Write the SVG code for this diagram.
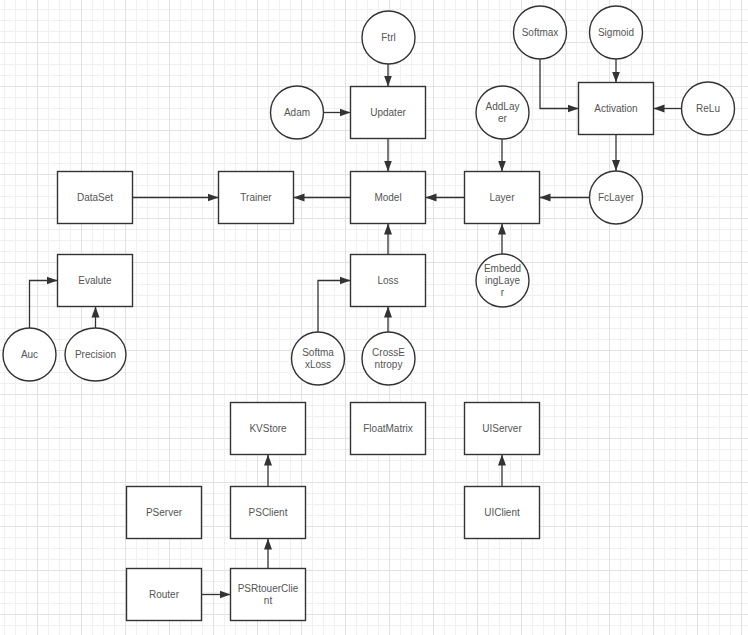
<svg xmlns="http://www.w3.org/2000/svg" width="748" height="635" viewBox="0 0 748 635">
<defs>
<pattern id="grid" patternUnits="userSpaceOnUse" x="4" y="9" width="44" height="44">
<path d="M0.5 0V44M11.5 0V44M22.5 0V44M0 0.5H44M0 11.5H44M0 22.5H44" stroke="#f0f0f0" stroke-width="1" fill="none"/>
<path d="M33.5 0V44M0 33.5H44" stroke="#e2e2e2" stroke-width="1" fill="none"/>
</pattern>
<marker id="arr" markerUnits="userSpaceOnUse" markerWidth="12" markerHeight="10" refX="11" refY="4.5" orient="auto">
<path d="M0 0.5L11 4.5L0 8.5Z" fill="#333"/>
</marker>
</defs>
<style>
.n rect, .n circle, .n ellipse { fill: #fff; stroke: #333; stroke-width: 1.4; }
.n text { font-family: "Liberation Sans", Arial, sans-serif; font-size: 10px; fill: #555; text-anchor: middle; dominant-baseline: central; }
#connectors path { fill: none; stroke: #333; stroke-width: 1.3; marker-end: url(#arr); }
</style>
<rect x="0" y="0" width="748" height="635" fill="#fff"/>
<rect x="0" y="0" width="748" height="635" fill="url(#grid)"/>

<g id="connectors">
<path d="M388 64V86.5"/>
<path d="M323.5 112.5H350.5"/>
<path d="M388 138.5V171.5"/>
<path d="M350.5 197.5H293.5"/>
<path d="M132.5 197.5H218.5"/>
<path d="M464.5 197.5H425.5"/>
<path d="M502 139V171.5"/>
<path d="M589.5 197.5H539.5"/>
<path d="M616 134.5V171"/>
<path d="M616 59V82.5"/>
<path d="M540 59V108.5H578.5"/>
<path d="M681.5 108.5H653.5"/>
<path d="M502 254V223.5"/>
<path d="M388 254.5V223.5"/>
<path d="M318 332V280.5H350.5"/>
<path d="M388 332V306.5"/>
<path d="M29.5 328V280.5H57.5"/>
<path d="M95.5 328V306.5"/>
<path d="M268 486.5V454.5"/>
<path d="M268 568.5V538.5"/>
<path d="M201.5 594.5H230.5"/>
<path d="M502 486.5V454.5"/>
</g>

<g id="DataSet" class="n"><rect x="57.5" y="171.5" width="75" height="52"/><text x="95" y="197.5">DataSet</text></g>
<g id="Trainer" class="n"><rect x="218.5" y="171.5" width="75" height="52"/><text x="256" y="197.5">Trainer</text></g>
<g id="Model" class="n"><rect x="350.5" y="171.5" width="75" height="52"/><text x="388" y="197.5">Model</text></g>
<g id="Layer" class="n"><rect x="464.5" y="171.5" width="75" height="52"/><text x="502" y="197.5">Layer</text></g>
<g id="Updater" class="n"><rect x="350.5" y="86.5" width="75" height="52"/><text x="388" y="112.5">Updater</text></g>
<g id="Activation" class="n"><rect x="578.5" y="82.5" width="75" height="52"/><text x="616" y="108.5">Activation</text></g>
<g id="Evalute" class="n"><rect x="57.5" y="254.5" width="75" height="52"/><text x="95" y="280.5">Evalute</text></g>
<g id="Loss" class="n"><rect x="350.5" y="254.5" width="75" height="52"/><text x="388" y="280.5">Loss</text></g>
<g id="KVStore" class="n"><rect x="230.5" y="402.5" width="75" height="52"/><text x="268" y="428.5">KVStore</text></g>
<g id="FloatMatrix" class="n"><rect x="350.5" y="402.5" width="75" height="52"/><text x="388" y="428.5">FloatMatrix</text></g>
<g id="UIServer" class="n"><rect x="464.5" y="402.5" width="75" height="52"/><text x="502" y="428.5">UIServer</text></g>
<g id="PServer" class="n"><rect x="126.5" y="486.5" width="75" height="52"/><text x="164" y="512.5">PServer</text></g>
<g id="PSClient" class="n"><rect x="230.5" y="486.5" width="75" height="52"/><text x="268" y="512.5">PSClient</text></g>
<g id="UIClient" class="n"><rect x="464.5" y="486.5" width="75" height="52"/><text x="502" y="512.5">UIClient</text></g>
<g id="Router" class="n"><rect x="126.5" y="568.5" width="75" height="52"/><text x="164" y="594.5">Router</text></g>
<g id="PSRtouerClient" class="n"><rect x="230.5" y="568.5" width="75" height="52"/><text x="268" y="588.5">PSRtouerClie</text><text x="268" y="600.5">nt</text></g>

<g id="Ftrl" class="n"><circle cx="388.5" cy="37.5" r="26.5"/><text x="388.5" y="37.5">Ftrl</text></g>
<g id="Adam" class="n"><circle cx="297" cy="112.5" r="26.5"/><text x="297" y="112.5">Adam</text></g>
<g id="AddLayer" class="n"><circle cx="502.5" cy="112.5" r="26.5"/><text x="502.5" y="106.5">AddLay</text><text x="502.5" y="118.5">er</text></g>
<g id="Softmax" class="n"><circle cx="540" cy="32.5" r="26.5"/><text x="540" y="32.5">Softmax</text></g>
<g id="Sigmoid" class="n"><circle cx="616" cy="32.5" r="26.5"/><text x="616" y="32.5">Sigmoid</text></g>
<g id="ReLu" class="n"><circle cx="708" cy="108.5" r="26.5"/><text x="708" y="108.5">ReLu</text></g>
<g id="FcLayer" class="n"><circle cx="616" cy="197.5" r="26.5"/><text x="616" y="197.5">FcLayer</text></g>
<g id="EmbeddingLayer" class="n"><circle cx="502.5" cy="280.5" r="26.5"/><text x="502.5" y="268.5">Embedd</text><text x="502.5" y="280.5">ingLaye</text><text x="502.5" y="292.5">r</text></g>
<g id="Auc" class="n"><circle cx="29.5" cy="354.5" r="26.5"/><text x="29.5" y="354.5">Auc</text></g>
<g id="Precision" class="n"><ellipse cx="95.5" cy="354.5" rx="30.5" ry="26.5"/><text x="95.5" y="354.5">Precision</text></g>
<g id="SoftmaxLoss" class="n"><circle cx="318" cy="358.5" r="26.5"/><text x="318" y="352.5">Softma</text><text x="318" y="364.5">xLoss</text></g>
<g id="CrossEntropy" class="n"><circle cx="388.5" cy="358.5" r="26.5"/><text x="388.5" y="352.5">CrossE</text><text x="388.5" y="364.5">ntropy</text></g>
</svg>
